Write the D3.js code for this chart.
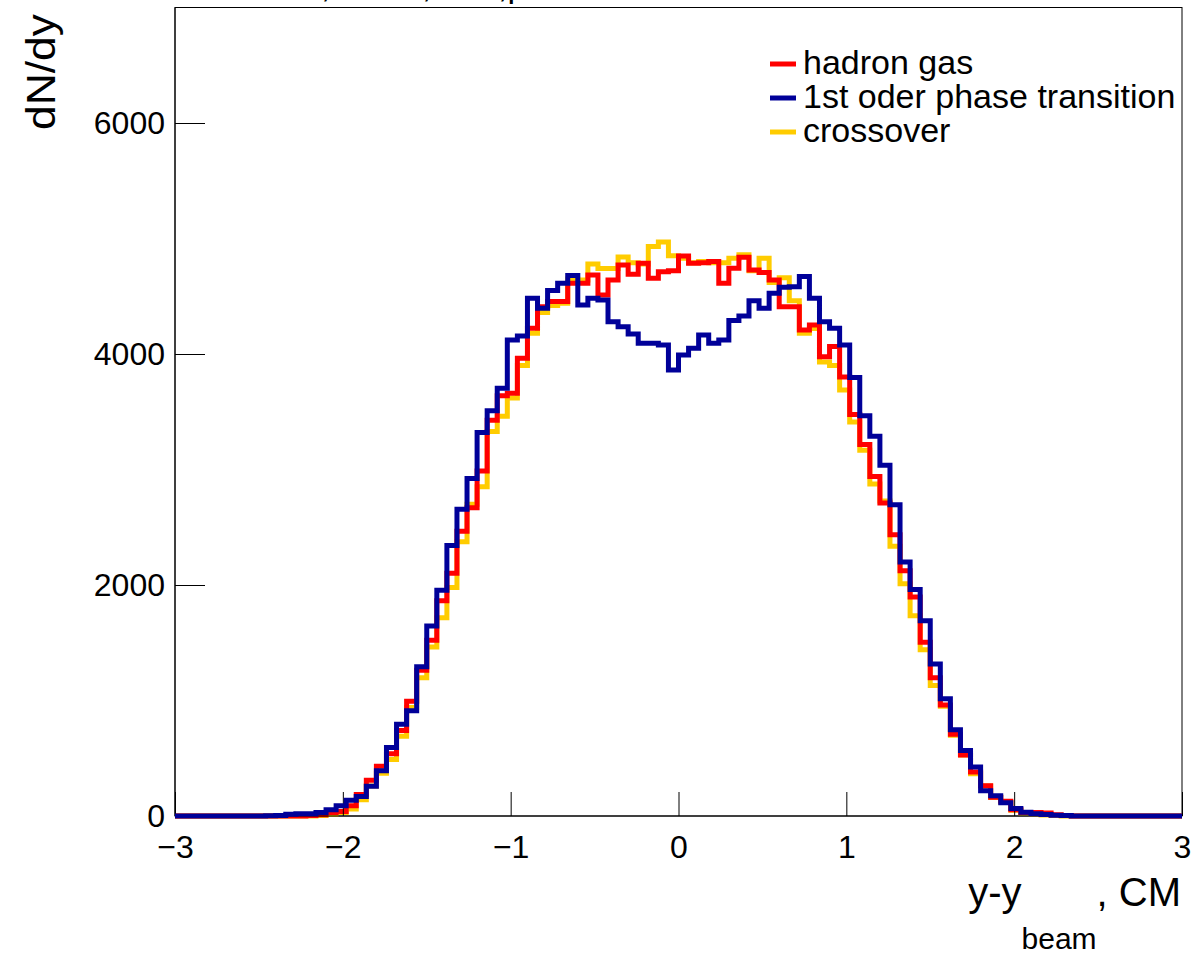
<!DOCTYPE html>
<html>
<head>
<meta charset="utf-8">
<script src="https://cdn.jsdelivr.net/npm/d3@7"></script>
<style>
  body { margin: 0; background: #fff; }
  svg { display: block; }
  text { font-family: "Liberation Sans", Arial, Helvetica, sans-serif; fill: #000; }
</style>
</head>
<body>
<svg id="chart" width="1195" height="965"></svg>
<script>
// ---- data (100 bins from -3 to 3, width 0.06) ----
const xRange = [-3, 3];
const nBins = 100;
const yRange = [0, 7000];
const xMajorTicks = [-3, -2, -1, 0, 1, 2, 3];
const yMajorTicks = [0, 2000, 4000, 6000];
const seriesNames = ["hadron gas", "1st oder phase transition", "crossover"];
const seriesColors = ["#ff0000", "#000099", "#ffcc00"];

const hadronGas = [
  0,0,0,0,0,0,0,0,0,0,
  0,0,0,5,10,30,40,88,186,310,
  430,538,740,994,1261,1521,1864,2101,2466,2668,
  2988,3427,3639,3660,3963,4223,4410,4454,4454,4612,
  4612,4684,4511,4641,4771,4690,4785,4655,4713,4720,
  4849,4785,4790,4800,4612,4742,4837,4728,4705,4641,
  4410,4410,4208,4251,3977,4064,3800,3476,3216,2939,
  2711,2434,2124,1896,1505,1196,961,707,528,381,
  261,163,127,55,30,30,25,10,5,0,
  0,0,0,0,0,0,0,0,0,0
];
const firstOrder = [
  0,0,0,0,0,0,0,0,0,2,
  5,15,20,20,30,55,88,137,169,257,
  391,593,795,912,1293,1645,1955,2342,2655,2922,
  3320,3509,3704,4122,4156,4482,4396,4549,4612,4679,
  4425,4482,4468,4280,4237,4174,4093,4093,4078,3862,
  3992,4050,4165,4093,4122,4289,4329,4462,4396,4526,
  4578,4583,4670,4482,4280,4223,4079,3796,3466,3287,
  3036,2694,2199,1961,1691,1316,1016,746,567,424,
  218,176,114,65,33,20,13,7,4,0,
  0,0,0,0,0,0,0,0,0,0
];
const crossover = [
  0,0,0,0,0,0,0,0,0,0,
  0,0,0,0,5,15,30,60,140,260,
  370,490,690,940,1196,1463,1717,1978,2375,2700,
  2850,3330,3460,3620,3900,4180,4360,4420,4440,4650,
  4640,4780,4740,4740,4840,4790,4780,4930,4970,4850,
  4830,4790,4800,4790,4790,4830,4860,4720,4830,4620,
  4660,4460,4180,4220,3930,3900,3688,3411,3167,2874,
  2727,2336,2010,1733,1440,1130,951,700,528,365,
  260,160,120,50,25,15,8,5,0,0,
  0,0,0,0,0,0,0,0,0,0
];

// ---- layout ----
const L = 175, R = 1182, T = 7.5, B = 816;
const svg = d3.select("#chart");

const x = d3.scaleLinear().domain(xRange).range([L, R]);
const y = d3.scaleLinear().domain(yRange).range([B, T]);
const binW = (xRange[1] - xRange[0]) / nBins;

// partial title (cut off at top of canvas): only descenders visible
const titleBits = [[321, ","], [422, ","], [498, ",p"]];
svg.selectAll("text.title").data(titleBits).enter().append("text")
  .attr("class", "title").attr("x", d => d[0]).attr("y", -3)
  .attr("font-size", 34).text(d => d[1]);

// frame
svg.append("rect").attr("x", L).attr("y", T).attr("width", R - L).attr("height", B - T)
  .attr("fill", "none").attr("stroke", "#000").attr("stroke-width", 1);

// histograms
function stepPoints(vals) {
  const pts = [];
  vals.forEach((v, i) => {
    const x0 = xRange[0] + i * binW, x1 = x0 + binW;
    pts.push([x0, v]); pts.push([x1, v]);
  });
  return pts;
}
const line = d3.line().x(d => x(d[0])).y(d => y(d[1]));
const drawOrder = [[crossover, seriesColors[2]], [hadronGas, seriesColors[0]]];
svg.append("g").selectAll("path").data(drawOrder).enter().append("path")
  .attr("d", d => line(stepPoints(d[0])))
  .attr("fill", "none").attr("stroke", d => d[1]).attr("stroke-width", 5)
  .attr("stroke-linejoin", "miter").attr("stroke-linecap", "butt");

// x axis
const xMinor = d3.range(-3, 3.0001, 0.2).filter(v => Math.abs(v - Math.round(v)) > 1e-6);
const gx = svg.append("g").attr("transform", `translate(0,${B})`);
gx.call(d3.axisBottom(x).tickValues(xMinor).tickSize(-12).tickFormat(""));
gx.call(d3.axisBottom(x).tickValues(xMajorTicks).tickSize(-24).tickPadding(22)
  .tickFormat(d => d3.format("")(d)));
gx.selectAll("text").attr("font-size", 32).attr("font-family", "Liberation Sans, Arial, sans-serif").attr("dy", "0.62em");

// y axis
const yMinor = d3.range(500, 7000, 500).filter(v => v % 2000 !== 0);
const gy = svg.append("g").attr("transform", `translate(${L},0)`);
gy.call(d3.axisLeft(y).tickValues(yMinor).tickSize(-15).tickFormat(""));
gy.call(d3.axisLeft(y).tickValues(yMajorTicks).tickSize(-30).tickPadding(10).tickFormat(d3.format("d")));
gy.selectAll("text").attr("font-size", 32).attr("font-family", "Liberation Sans, Arial, sans-serif");
svg.selectAll(".domain").remove();
svg.append("line").attr("x1", L).attr("x2", R).attr("y1", B).attr("y2", B).attr("stroke", "#000");
svg.append("line").attr("x1", L).attr("x2", L).attr("y1", T).attr("y2", B).attr("stroke", "#000");
// blue histogram drawn on top (also over the axis base line, as in reference)
svg.append("path").attr("d", line(stepPoints(firstOrder)))
  .attr("fill", "none").attr("stroke", seriesColors[1]).attr("stroke-width", 5)
  .attr("stroke-linejoin", "miter").attr("stroke-linecap", "butt");

// axis titles
svg.append("text").attr("transform", "translate(55,14) rotate(-90)")
  .attr("text-anchor", "end").attr("font-size", 40)
  .attr("textLength", 116).attr("lengthAdjust", "spacingAndGlyphs").text("dN/dy");

const xt = svg.append("text").attr("x", 1181).attr("y", 906).attr("text-anchor", "end").attr("font-size", 40);
xt.append("tspan").text("y-y");
xt.append("tspan").attr("dy", 43).attr("font-size", 30).text("beam");
xt.append("tspan").attr("dy", -43).text(", CM");

// legend
const legY = [64, 98, 132];
const leg = svg.append("g");
seriesNames.forEach((name, i) => {
  leg.append("line").attr("x1", 770).attr("x2", 796).attr("y1", legY[i]).attr("y2", legY[i])
    .attr("stroke", seriesColors[i]).attr("stroke-width", 5);
  leg.append("text").attr("x", 803).attr("y", legY[i] + 10).attr("font-size", 34).text(name);
});
</script>
</body>
</html>
